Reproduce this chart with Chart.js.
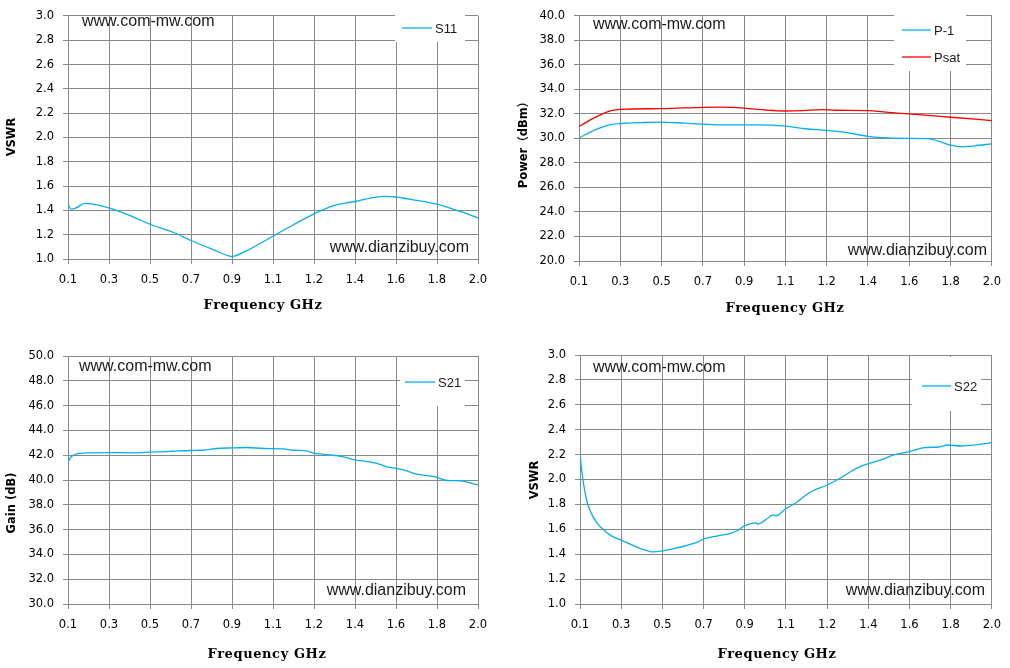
<!DOCTYPE html>
<html>
<head>
<meta charset="utf-8">
<script src="https://cdn.jsdelivr.net/npm/chart.js@4.4.1/dist/chart.umd.min.js"></script>
<style>
  html, body { margin: 0; padding: 0; background: #fff; overflow: hidden; }
  .panel { position: absolute; }
</style>
</head>
<body>
<div class="panel" style="left:0;top:0;width:505px;height:335px"><canvas id="c1"></canvas></div>
<div class="panel" style="left:505px;top:0;width:505px;height:335px"><canvas id="c2"></canvas></div>
<div class="panel" style="left:0;top:335px;width:505px;height:333px"><canvas id="c3"></canvas></div>
<div class="panel" style="left:505px;top:335px;width:505px;height:333px"><canvas id="c4"></canvas></div>
<script>
// x axis is a category-like axis: positions are grid indices 0..10
const freqLabels = ['0.1', '0.3', '0.5', '0.7', '0.9', '1.1', '1.2', '1.4', '1.6', '1.8', '2.0'];

// S11 (VSWR)
const s11Pos = [0, 0.08, 0.2, 0.4, 0.57, 1.0, 1.6, 2.0, 2.56, 3.0, 3.54, 3.94, 4.0, 4.35, 5.0, 5.49, 6.0, 6.46, 7.0, 7.44, 7.72, 8.0, 8.5, 9.0, 9.55, 10.0];
const s11Val = [1.45, 1.41, 1.42, 1.457, 1.454, 1.42, 1.345, 1.286, 1.22, 1.152, 1.077, 1.024, 1.021, 1.067, 1.187, 1.28, 1.371, 1.438, 1.473, 1.505, 1.515, 1.51, 1.483, 1.451, 1.393, 1.339];

// Power (dBm)
const psatPos = [0, 0.38, 0.78, 1.0, 2.0, 3.0, 3.42, 4.0, 4.52, 5.0, 5.42, 5.9, 6.2, 7.0, 7.5, 8.0, 8.6, 9.0, 10.0];
const psatVal = [30.98, 31.7, 32.27, 32.38, 32.43, 32.54, 32.56, 32.48, 32.32, 32.24, 32.27, 32.36, 32.3, 32.27, 32.13, 32.0, 31.84, 31.73, 31.46];
const p1Pos = [0, 0.38, 0.78, 1.0, 1.58, 2.0, 2.54, 3.0, 3.5, 4.0, 4.37, 5.0, 5.5, 6.0, 6.45, 7.0, 7.5, 8.0, 8.45, 8.69, 9.0, 9.29, 9.57, 10.0];
const p1Val = [30.04, 30.68, 31.14, 31.22, 31.3, 31.33, 31.25, 31.17, 31.11, 31.11, 31.11, 31.0, 30.79, 30.66, 30.5, 30.17, 30.04, 30.01, 29.99, 29.8, 29.45, 29.32, 29.4, 29.56];

// S21 (Gain dB)
const s21Pos = [0, 0.08, 0.2, 0.45, 1.0, 1.59, 2.0, 2.57, 3.0, 3.3, 3.62, 4.0, 4.36, 4.76, 5.25, 5.5, 5.82, 6.0, 6.47, 6.72, 7.0, 7.29, 7.61, 7.78, 8.0, 8.18, 8.5, 8.67, 8.96, 9.25, 9.57, 10.0];
const s21Val = [41.46, 41.87, 42.08, 42.19, 42.21, 42.19, 42.24, 42.32, 42.38, 42.4, 42.54, 42.59, 42.62, 42.54, 42.51, 42.4, 42.35, 42.16, 42.0, 41.87, 41.62, 41.49, 41.27, 41.06, 40.93, 40.82, 40.47, 40.39, 40.25, 39.96, 39.93, 39.61];

// S22 (VSWR)
const s22Pos = [0, 0.05, 0.11, 0.18, 0.29, 0.43, 0.59, 0.75, 1.01, 1.23, 1.55, 1.79, 2.0, 2.28, 2.6, 2.84, 3.0, 3.32, 3.64, 3.84, 4.0, 4.28, 4.32, 4.6, 4.68, 4.76, 5.0, 5.24, 5.56, 6.0, 6.28, 6.52, 6.76, 7.0, 7.32, 7.64, 8.0, 8.36, 8.69, 8.93, 9.25, 9.65, 10.0];
const s22Val = [2.2, 2.05, 1.918, 1.811, 1.718, 1.643, 1.592, 1.549, 1.511, 1.479, 1.436, 1.418, 1.426, 1.444, 1.471, 1.495, 1.522, 1.546, 1.565, 1.592, 1.629, 1.652, 1.642, 1.699, 1.716, 1.709, 1.766, 1.811, 1.892, 1.956, 2.004, 2.052, 2.098, 2.127, 2.159, 2.2, 2.224, 2.256, 2.261, 2.277, 2.269, 2.28, 2.296];

const BLUE = '#00b0f0';
const RED = '#ff0000';
const GRID = '#888888';
const TEXT = '#1a1a1a';

function pts(xs, ys) {
  return xs.map((x, i) => ({ x: x, y: ys[i] }));
}

// draws axis titles, watermarks and the in-plot legend
const decorPlugin = {
  id: 'decor',
  beforeDatasetsDraw(chart, args, opts) {
    const ctx = chart.ctx;
    const b = opts.legendBox;
    ctx.save();
    ctx.fillStyle = '#fff';
    ctx.fillRect(b.x, b.y, b.w, b.h);
    ctx.restore();
  },
  afterDraw(chart, args, opts) {
    const ctx = chart.ctx;
    ctx.save();

    // legend entries
    ctx.font = '13px "Liberation Sans"';
    ctx.textBaseline = 'middle';
    ctx.textAlign = 'left';
    opts.legendRows.forEach((r, i) => {
      const ds = chart.data.datasets[i];
      ctx.strokeStyle = ds.borderColor;
      ctx.lineWidth = 1.3;
      ctx.beginPath();
      ctx.moveTo(r.x1, r.y);
      ctx.lineTo(r.x2, r.y);
      ctx.stroke();
      ctx.fillStyle = TEXT;
      ctx.fillText(ds.label, r.x2 + 3, r.y + 1);
    });

    // watermarks
    ctx.font = '16px "Liberation Sans"';
    ctx.fillStyle = TEXT;
    ctx.textAlign = 'left';
    ctx.fillText('www.com-mw.com', opts.mark1.x, opts.mark1.y);
    ctx.textAlign = 'right';
    ctx.fillText('www.dianzibuy.com', opts.mark2.x, opts.mark2.y);

    // x title
    ctx.font = 'bold 13px "DejaVu Serif"';
    ctx.letterSpacing = '0.6px';
    ctx.textAlign = 'center';
    ctx.fillStyle = '#000';
    ctx.fillText('Frequency GHz', opts.xTitle.x, opts.xTitle.y);
    ctx.letterSpacing = '0px';

    // y title
    ctx.font = 'bold 11.5px "DejaVu Sans", "Noto Sans CJK SC"';
    ctx.translate(opts.yTitle.x, opts.yTitle.y);
    ctx.rotate(-Math.PI / 2);
    ctx.fillText(opts.yTitle.text, 0, 0);
    ctx.restore();
  }
};

function makeChart(id, cfg) {
  return new Chart(document.getElementById(id), {
    type: 'line',
    data: { datasets: cfg.datasets },
    plugins: [decorPlugin],
    options: {
      responsive: true,
      maintainAspectRatio: false,
      animation: false,
      layout: { padding: { top: cfg.top, right: cfg.right, left: 0, bottom: 0 } },
      elements: { point: { radius: 0 } },
      plugins: {
        legend: { display: false },
        tooltip: { enabled: false },
        decor: cfg.decor
      },
      scales: {
        x: {
          type: 'linear',
          min: 0,
          max: 10,
          afterFit: s => { s.height = cfg.xh; },
          ticks: {
            stepSize: 1,
            padding: 9,
            color: '#000',
            font: { family: 'DejaVu Sans', size: 11.5 },
            maxRotation: 0,
            callback: v => freqLabels[v]
          },
          grid: { color: GRID, tickLength: 5, lineWidth: 1 },
          border: { color: GRID }
        },
        y: {
          min: cfg.ymin,
          max: cfg.ymax,
          afterFit: s => { s.width = cfg.yw; },
          ticks: {
            stepSize: cfg.step,
            padding: 9,
            color: '#000',
            font: { family: 'DejaVu Sans', size: 11.5 },
            callback: v => v.toFixed(1)
          },
          grid: { color: GRID, tickLength: 5, lineWidth: 1 },
          border: { color: GRID }
        }
      }
    }
  });
}

function line(label, data, color) {
  return {
    label: label,
    data: data,
    borderColor: color,
    borderWidth: 1.3,
    fill: false,
    cubicInterpolationMode: 'monotone'
  };
}

makeChart('c1', {
  datasets: [line('S11', pts(s11Pos, s11Val), BLUE)],
  ymin: 1.0, ymax: 3.0, step: 0.2,
  top: 9, right: 27, yw: 68, xh: 76,
  decor: {
    legendBox: { x: 395, y: 11, w: 70, h: 31 },
    legendRows: [{ x1: 402, x2: 432, y: 28 }],
    mark1: { x: 82, y: 22 },
    mark2: { x: 469, y: 248 },
    xTitle: { x: 263, y: 306 },
    yTitle: { text: 'VSWR', x: 12, y: 137 }
  }
});

makeChart('c2', {
  datasets: [line('P-1', pts(p1Pos, p1Val), BLUE), line('Psat', pts(psatPos, psatVal), RED)],
  ymin: 20, ymax: 40, step: 2,
  top: 13, right: 14, yw: 74, xh: 74,
  decor: {
    legendBox: { x: 389, y: 14, w: 72, h: 57 },
    legendRows: [{ x1: 397, x2: 426, y: 30 }, { x1: 397, x2: 426, y: 57 }],
    mark1: { x: 88, y: 25 },
    mark2: { x: 482, y: 251 },
    xTitle: { x: 280, y: 309 },
    yTitle: { text: 'Power（dBm）', x: 19, y: 142 }
  }
});

makeChart('c3', {
  datasets: [line('S21', pts(s21Pos, s21Val), BLUE)],
  ymin: 30, ymax: 50, step: 2,
  top: 21, right: 27, yw: 68, xh: 64,
  decor: {
    legendBox: { x: 400, y: 22, w: 65, h: 49 },
    legendRows: [{ x1: 405, x2: 435, y: 47 }],
    mark1: { x: 79, y: 32 },
    mark2: { x: 466, y: 256 },
    xTitle: { x: 267, y: 320 },
    yTitle: { text: 'Gain (dB)', x: 12, y: 168 }
  }
});

makeChart('c4', {
  datasets: [line('S22', pts(s22Pos, s22Val), BLUE)],
  ymin: 1.0, ymax: 3.0, step: 0.2,
  top: 20, right: 14, yw: 75, xh: 64,
  decor: {
    legendBox: { x: 407, y: 22, w: 69, h: 54 },
    legendRows: [{ x1: 417, x2: 446, y: 51 }],
    mark1: { x: 88, y: 33 },
    mark2: { x: 480, y: 256 },
    xTitle: { x: 272, y: 320 },
    yTitle: { text: 'VSWR', x: 30, y: 145 }
  }
});
</script>
</body>
</html>
